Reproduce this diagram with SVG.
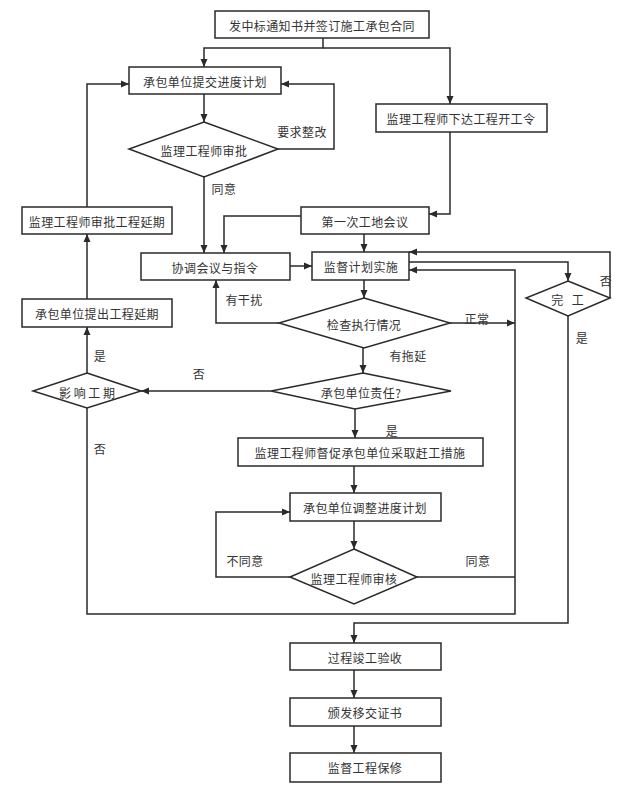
<svg xmlns="http://www.w3.org/2000/svg" width="640" height="791" viewBox="0 0 640 791">
<style>
.box{fill:#fff;stroke:#2a2a2a;stroke-width:1.5}
.t{font-family:"Noto Sans CJK SC","Noto Sans",sans-serif;font-size:12px;fill:#333;text-anchor:middle;dominant-baseline:central;letter-spacing:0.4px}
.c{fill:none;stroke:#2a2a2a;stroke-width:1.5}
.a{marker-end:url(#ah)}
</style>
<defs>
<marker id="ah" markerUnits="userSpaceOnUse" markerWidth="8" markerHeight="8" refX="8" refY="4" orient="auto">
<path d="M0,0.5 L8,4 L0,7.5 z" fill="#2a2a2a"/>
</marker>
</defs>
<rect width="640" height="791" fill="#fff"/>
<g id="connectors">
<path class="c a" d="M323,38 V48 H204 V67"/>
<path class="c a" d="M323,48 H450 V104"/>
<path class="c a" d="M204,94 V122"/>
<path class="c a" d="M278,149 H334 V84 H281"/>
<path class="c a" d="M204,177 V253"/>
<path class="c a" d="M87,207 V84 H129"/>
<path class="c a" d="M87,299 V234"/>
<path class="c a" d="M87,373 V327"/>
<path class="c a" d="M450,132 V214 H429"/>
<path class="c a" d="M301,216 H224 V253"/>
<path class="c a" d="M364,234 V252"/>
<path class="c a" d="M290,266 H312"/>
<path class="c a" d="M364,280 V298"/>
<path class="c a" d="M279,323 H216 V280"/>
<path class="c a" d="M450,323 H515"/>
<path class="c a" d="M363,348 V373"/>
<path class="c a" d="M409,262 H568 V281"/>
<path class="c a" d="M610,298 V252 H409"/>
<path class="c a" d="M568,316 V623 H354 V643"/>
<path class="c a" d="M271,391 H141"/>
<path class="c a" d="M355,409 V438"/>
<path class="c a" d="M354,466 V493"/>
<path class="c a" d="M354,521 V549"/>
<path class="c a" d="M290,577 H216 V512 H290"/>
<path class="c" d="M417,577 H515"/>
<path class="c a" d="M87,408 V614 H515 V270 H409"/>
<path class="c a" d="M354,670 V698"/>
<path class="c a" d="M354,726 V753"/>
<text class="t" x="302" y="131">要求整改</text>
<text class="t" x="224" y="188">同意</text>
<text class="t" x="244" y="299">有干扰</text>
<text class="t" x="477" y="318">正常</text>
<text class="t" x="408" y="355">有拖延</text>
<text class="t" x="100" y="355">是</text>
<text class="t" x="199" y="373">否</text>
<text class="t" x="100" y="448">否</text>
<text class="t" x="392" y="430">是</text>
<text class="t" x="245" y="560">不同意</text>
<text class="t" x="478" y="560">同意</text>
<text class="t" x="606" y="280">否</text>
<text class="t" x="582" y="337">是</text>
</g>
<g id="n1"><rect class="box" x="215" y="11" width="214" height="27"/><text class="t" x="322" y="25">发中标通知书并签订施工承包合同</text></g>
<g id="n2"><rect class="box" x="129" y="67" width="152" height="27"/><text class="t" x="205" y="81">承包单位提交进度计划</text></g>
<g id="n3"><polygon class="box" points="204,122 278,149 204,177 129,149"/><text class="t" x="204" y="150">监理工程师审批</text></g>
<g id="n4"><rect class="box" x="376" y="104" width="171" height="28"/><text class="t" x="461" y="118">监理工程师下达工程开工令</text></g>
<g id="n5"><rect class="box" x="22" y="207" width="150" height="27"/><text class="t" x="97" y="221">监理工程师审批工程延期</text></g>
<g id="n6"><rect class="box" x="301" y="207" width="128" height="27"/><text class="t" x="365" y="221">第一次工地会议</text></g>
<g id="n7"><rect class="box" x="141" y="253" width="149" height="27"/><text class="t" x="215" y="267">协调会议与指令</text></g>
<g id="n8"><rect class="box" x="312" y="252" width="97" height="28"/><text class="t" x="361" y="266">监督计划实施</text></g>
<g id="n9"><polygon class="box" points="364,298 450,323 364,348 279,323"/><text class="t" x="364" y="324">检查执行情况</text></g>
<g id="n10"><rect class="box" x="22" y="299" width="150" height="28"/><text class="t" x="97" y="313">承包单位提出工程延期</text></g>
<g id="n11"><polygon class="box" points="87,373 141,391 87,408 33,391"/><text class="t" x="87" y="392" style="letter-spacing:0px">影 响 工 期</text></g>
<g id="n12"><polygon class="box" points="363,373 451,391 355,409 271,391"/><text class="t" x="361" y="392">承包单位责任?</text></g>
<g id="n13"><rect class="box" x="238" y="438" width="245" height="28"/><text class="t" x="360" y="452">监理工程师督促承包单位采取赶工措施</text></g>
<g id="n14"><rect class="box" x="290" y="493" width="151" height="28"/><text class="t" x="365" y="507">承包单位调整进度计划</text></g>
<g id="n15"><polygon class="box" points="354,549 417,577 354,604 290,577"/><text class="t" x="354" y="578">监理工程师审核</text></g>
<g id="n16"><polygon class="box" points="568,281 610,298 568,316 526,298"/><text class="t" x="569" y="299" style="letter-spacing:3px">完 工</text></g>
<g id="n17"><rect class="box" x="290" y="643" width="151" height="27"/><text class="t" x="365" y="657">过程竣工验收</text></g>
<g id="n18"><rect class="box" x="290" y="698" width="151" height="28"/><text class="t" x="365" y="712">颁发移交证书</text></g>
<g id="n19"><rect class="box" x="290" y="753" width="151" height="29"/><text class="t" x="365" y="767">监督工程保修</text></g>
</svg>
